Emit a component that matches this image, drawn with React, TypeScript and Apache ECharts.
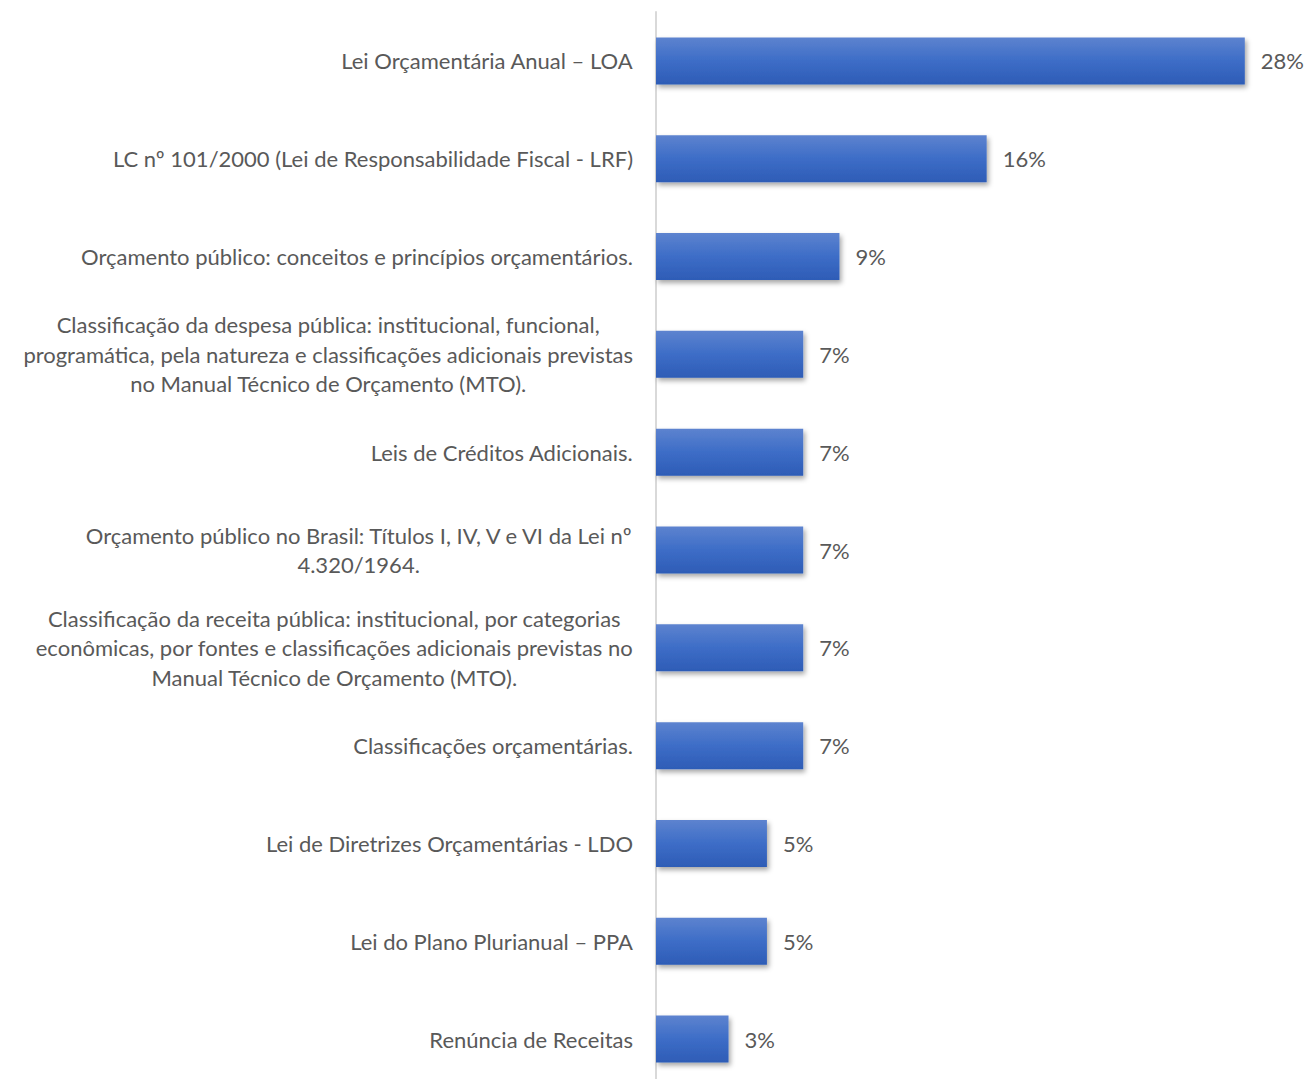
import React, { useEffect, useRef } from "react";
import * as echarts from "echarts";

const categories: string[] = [
  "Lei Orçamentária Anual – LOA",
  "LC nº 101/2000 (Lei de Responsabilidade Fiscal - LRF)",
  "Orçamento público: conceitos e princípios orçamentários.",
  "Classificação da despesa pública: institucional, funcional,\nprogramática, pela natureza e classificações adicionais previstas\nno Manual Técnico de Orçamento (MTO).",
  "Leis de Créditos Adicionais.",
  "Orçamento público no Brasil: Títulos I, IV, V e VI da Lei nº\n4.320/1964.",
  "Classificação da receita pública: institucional, por categorias\neconômicas, por fontes e classificações adicionais previstas no\nManual Técnico de Orçamento (MTO).",
  "Classificações orçamentárias.",
  "Lei de Diretrizes Orçamentárias - LDO",
  "Lei do Plano Plurianual – PPA",
  "Renúncia de Receitas",
];

// percentages (labels show them rounded)
const values: number[] = [27.6, 15.5, 8.6, 6.9, 6.9, 6.9, 6.9, 6.9, 5.2, 5.2, 3.4];

const FONT = "Lato, 'Open Sans', sans-serif";
const TEXT_COLOR = "#595959";
const FS = 22;

export default function App() {
  const ref = useRef<HTMLDivElement>(null);
  useEffect(() => {
    if (!ref.current) return;
    const chart = echarts.init(ref.current, undefined, { renderer: "svg" });
    chart.setOption({
      animation: false,
      backgroundColor: "#ffffff",
      grid: { left: 656, top: 12, width: 640, height: 1076, containLabel: false },
      xAxis: {
        type: "value",
        min: 0,
        max: 30,
        show: false,
      },
      yAxis: {
        type: "category",
        data: categories,
        inverse: true,
        axisLine: { show: true, lineStyle: { color: "#d9d9d9", width: 2 } },
        axisTick: { show: false },
        splitLine: { show: false },
        axisLabel: {
          margin: 23,
          align: "right",
          fontFamily: FONT,
          fontSize: FS,
          color: TEXT_COLOR,
          lineHeight: 29.5,
          formatter: (v: string) =>
            v
              .split("\n")
              .map((l) => "{c|" + l + "}")
              .join("\n"),
          rich: {
            c: {
              align: "center",
              fontFamily: FONT,
              fontSize: FS,
              color: TEXT_COLOR,
              lineHeight: 29.5,
            },
          },
        },
      },
      series: [
        {
          type: "bar",
          data: values,
          barWidth: 47,
          itemStyle: {
            color: new echarts.graphic.LinearGradient(0, 0, 0, 1, [
              { offset: 0, color: "#5D83CF" },
              { offset: 0.5, color: "#3D6DC7" },
              { offset: 1, color: "#2E5CB6" },
            ]),
            shadowColor: "rgba(0,0,0,0.35)",
            shadowBlur: 5,
            shadowOffsetX: 2,
            shadowOffsetY: 3,
          },
          label: {
            show: true,
            position: "right",
            distance: 16,
            fontFamily: FONT,
            fontSize: FS,
            color: TEXT_COLOR,
            formatter: (p: any) => Math.round(p.value) + "%",
          },
        },
      ],
    });
    return () => chart.dispose();
  }, []);
  return (
    <div
      style={{
        position: "fixed",
        left: 0,
        top: 0,
        width: 1306,
        height: 1079,
        overflow: "hidden",
        background: "#fff",
      }}
    >
      <div ref={ref} style={{ width: 1306, height: 1100 }} />
    </div>
  );
}
